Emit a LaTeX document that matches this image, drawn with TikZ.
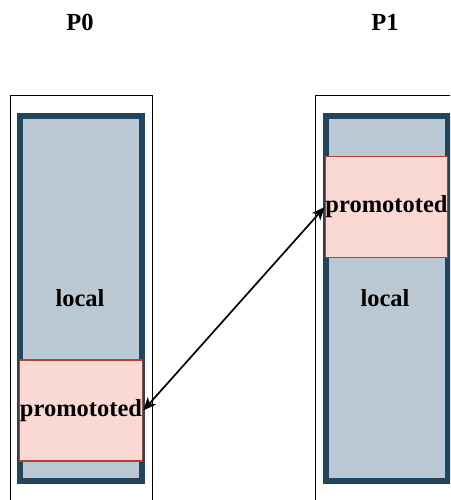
\documentclass[tikz,border=0pt]{standalone}
\usepackage{fontspec}
\setmainfont{Liberation Serif}
\usetikzlibrary{arrows.meta}
\definecolor{memstroke}{HTML}{23445D}
\definecolor{memfill}{HTML}{BAC8D3}
\definecolor{promfill}{HTML}{FAD9D5}
\definecolor{promstroke}{HTML}{AE4132}
\tikzset{
  lbl/.style={font=\fontsize{24.5}{27}\selectfont\bfseries, inner sep=0pt},
  procbox/.style={draw=black, line width=1.8pt},
  membox/.style={draw=memstroke, fill=memfill, line width=6pt, minimum width=122pt, minimum height=365pt, inner sep=0pt},
  promobox/.style={draw=promstroke, fill=promfill, line width=1.5pt, minimum width=122pt, minimum height=101pt, inner sep=0pt, lbl},
  link/.style={line width=1.7pt, {Stealth[length=13pt,width=11pt,inset=3.5pt]}-{Stealth[length=13pt,width=11pt,inset=3.5pt]}}
}
\begin{document}
\begin{tikzpicture}[x=1pt, y=-1pt]
\useasboundingbox (0,0) rectangle (450,500);
\clip (0,0) rectangle (450,500);
% process frames
\draw[procbox] (10.5,95.5) rectangle (152.5,520);
\draw[procbox] (315.5,95.5) rectangle (457.5,520);
% process titles
\node[lbl] (p0) at (80,22) {P0};
\node[lbl] (p1) at (385,22) {P1};
% memory columns
\node[membox] (mem0) at (81,298.5) {};
\node[membox] (mem1) at (387,298.5) {};
\node[lbl] (loc0) at (80,298) {local};
\node[lbl] (loc1) at (385,298) {local};
% promoted regions
\node[promobox, minimum width=123pt] (prom0) at (81,410.5) {promototed};
\node[promobox] (prom1) at (386.5,207) {promototed};
% link between the promoted regions
\draw[link] (prom0.east) -- (prom1.west);
\end{tikzpicture}
\end{document}
